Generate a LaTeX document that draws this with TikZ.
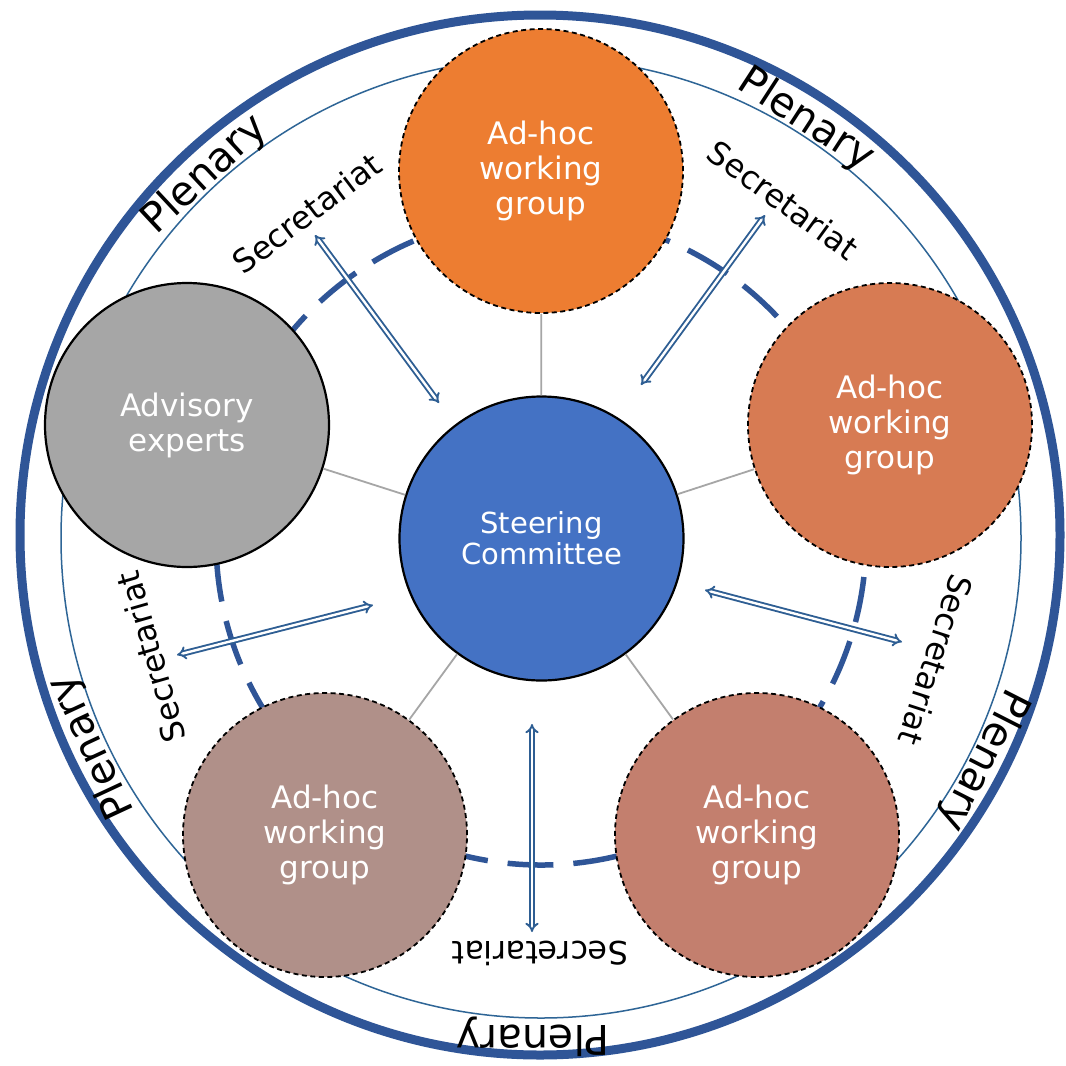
\documentclass[tikz,border=0pt]{standalone}
\usepackage{fontspec}
\setmainfont{DejaVu Sans}
\usetikzlibrary{arrows.meta}
\definecolor{thickblue}{HTML}{2F5597}
\definecolor{thinblue}{HTML}{2E6596}
\definecolor{arrowblue}{HTML}{2E5E93}
\definecolor{cOrange}{HTML}{ED7D31}
\definecolor{cRight}{HTML}{D77B53}
\definecolor{cBR}{HTML}{C37F6E}
\definecolor{cBL}{HTML}{B09089}
\definecolor{cGray}{HTML}{A6A6A6}
\definecolor{cSteer}{HTML}{4472C4}
\definecolor{spokegray}{HTML}{A6A6A6}
\tikzset{
  bigcirc/.style={circle, minimum size=284pt, inner sep=0pt, align=center, text=white,
     font=\fontsize{31}{35}\selectfont},
  adhoc/.style={bigcirc, draw=black, line width=1.8pt, dash pattern=on 5pt off 3.5pt},
  solidc/.style={bigcirc, draw=black, line width=2.2pt},
  spoke/.style={draw=spokegray, line width=1.8pt},
  darrow/.style={draw=arrowblue, double=white, double distance=2.4pt, line width=1.9pt,
     {Implies[length=5.5pt]}-{Implies[length=5.5pt]}},
  plen/.style={font=\fontsize{41}{45}\selectfont, text=black, inner sep=0pt},
  secr/.style={font=\fontsize{32}{36}\selectfont, text=black, inner sep=0pt}
}
\begin{document}
\begin{tikzpicture}[x=1pt,y=-1pt]
\useasboundingbox (0,0) rectangle (1066,1066);
\fill[white] (0,0) rectangle (1066,1066);
% outer rings
\draw[thickblue, line width=9pt] (540,535) circle[radius=520pt];
\draw[thinblue, line width=1.5pt] (541,538) circle[radius=480pt];
% dashed ring (31 dash periods)
\begin{scope}[shift={(541,540)}, y=1pt]
  \draw[thickblue, line width=5.5pt, dash pattern=on 45.87pt off 20pt]
    (124.76:325) arc[start angle=124.76, end angle=484.76, radius=325];
\end{scope}
% nodes
\node[solidc, fill=cSteer, font=\fontsize{29}{31}\selectfont] (c) at (541.5,538.5) {Steering\\Committee};
\node[adhoc, fill=cOrange] (top) at (541,171) {Ad-hoc\\working\\group};
\node[adhoc, fill=cRight] (right) at (890,425) {Ad-hoc\\working\\group};
\node[adhoc, fill=cBR] (br) at (757,835) {Ad-hoc\\working\\group};
\node[adhoc, fill=cBL] (bl) at (325,835) {Ad-hoc\\working\\group};
\node[solidc, fill=cGray] (adv) at (187,425) {Advisory\\experts};
% spokes
\foreach \n in {top,right,br,bl,adv} \draw[spoke] (c) -- (\n);
% arrow end points
\coordinate (a1s) at (315,235); \coordinate (a1e) at (439,403);
\coordinate (a2s) at (765,215); \coordinate (a2e) at (641,385);
\coordinate (a3s) at (705,590); \coordinate (a3e) at (902,642);
\coordinate (a4s) at (532,724); \coordinate (a4e) at (532,932);
\coordinate (a5s) at (373,605); \coordinate (a5e) at (177,655);
\draw[darrow] (a1s) -- (a1e);
\draw[darrow] (a2s) -- (a2e);
\draw[darrow] (a3s) -- (a3e);
\draw[darrow] (a4s) -- (a4e);
\draw[darrow] (a5s) -- (a5e);
% Secretariat labels
\node[secr, rotate=37] (s1) at (307,213) {Secretariat};
\node[secr, rotate=-36] (s2) at (783,200) {Secretariat};
\node[secr, rotate=-108] (s3) at (936,660) {Secretariat};
\node[secr, rotate=180] (s4) at (540,953) {Secretariat};
\node[secr, rotate=106] (s5) at (151,657) {Secretariat};
% Plenary labels
\node[plen, rotate=43] (p1) at (205,175) {Plenary};
\node[plen, rotate=-33] (p2) at (806,120) {Plenary};
\node[plen, rotate=-117] (p3) at (983,760) {Plenary};
\node[plen, rotate=180] (p4) at (533,1037) {Plenary};
\node[plen, rotate=115] (p5) at (92,747) {Plenary};
\end{tikzpicture}
\end{document}
